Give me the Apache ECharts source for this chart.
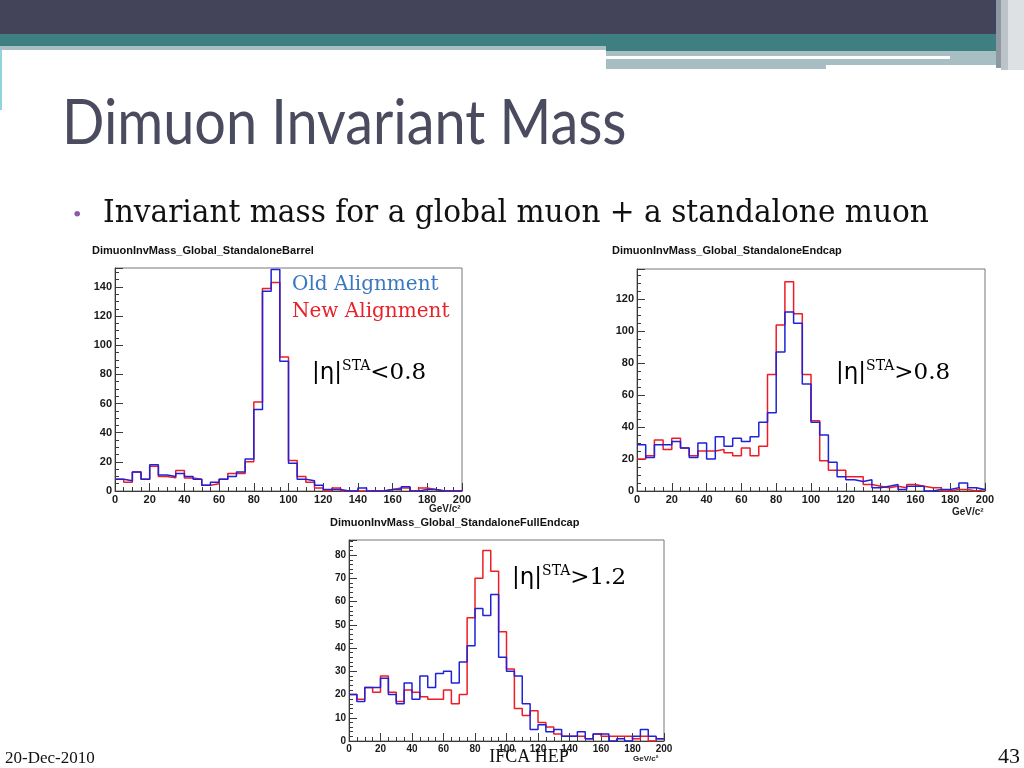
<!DOCTYPE html>
<html><head><meta charset="utf-8">
<script src="https://cdn.jsdelivr.net/npm/echarts@6/dist/echarts.min.js"></script>
<style>html,body{margin:0;padding:0;background:#fff}#c{width:1024px;height:768px}</style>
</head><body><div id="c"></div>
<script>
// Histogram binning: 40 bins of 5 GeV/c^2 from 0 to 200
const binStart = 0;
const binWidth = 5;
const xTicks = [0, 20, 40, 60, 80, 100, 120, 140, 160, 180, 200];

const chartTitles = [
  'DimuonInvMass_Global_StandaloneBarrel',
  'DimuonInvMass_Global_StandaloneEndcap',
  'DimuonInvMass_Global_StandaloneFullEndcap'
];
const legendNames = ['Old Alignment', 'New Alignment'];
const etaLabels = ['<0.8', '>0.8', '>1.2'];

// Barrel |eta|<0.8
const barrelOld = [8,7,13,8,18,11,10,12,10,8,4,6,8,10,13,22,56,137,152,89,19,8,7,4,1,1,0,0,2,0,0,1,1,3,0,1,1,0,0,0];
const barrelNew = [8,6,13,8,17,10,9,14,9,8,4,5,8,12,12,20,61,139,143,92,21,10,6,2,0,2,0,0,0,0,0,1,2,2,0,2,1,0,0,0];
// Endcap |eta|>0.8
const endcapOld = [29,21,29,29,31,27,21,30,20,34,28,33,31,34,43,49,87,112,105,67,43,35,18,9,7,6,7,2,3,4,1,3,3,0,1,1,2,5,2,1];
const endcapNew = [20,22,32,26,33,27,22,25,25,26,24,22,27,22,28,73,104,131,111,73,44,19,13,13,9,9,4,3,2,3,2,4,3,2,2,0,1,1,0,1];
// Full endcap |eta|>1.2
const fullOld = [20,17,23,23,27,20,16,25,18,28,23,29,30,25,34,41,57,54,63,36,30,28,16,5,7,4,5,2,2,4,1,3,3,0,1,0,2,5,2,1];
const fullNew = [20,18,23,21,28,21,17,22,21,19,18,18,22,16,20,53,70,82,73,47,31,14,11,13,8,6,3,2,2,2,1,3,2,2,2,2,1,2,0,1];

function stepData(values) {
  const pts = values.map((v, i) => [binStart + i * binWidth, v]);
  pts.push([binStart + values.length * binWidth, values[values.length - 1]]);
  return pts;
}

const grids = [
  {left: 115, top: 268, width: 347, height: 223, ymax: 153, yInt: 20, ySplit: 4, fs: 11},
  {left: 637, top: 269, width: 348, height: 222, ymax: 139, yInt: 20, ySplit: 4, fs: 11},
  {left: 349, top: 540, width: 315, height: 201, ymax: 86.5, yInt: 10, ySplit: 5, fs: 10}
];
const seriesSets = [[barrelNew, barrelOld], [endcapNew, endcapOld], [fullNew, fullOld]];

const axisColor = '#3a3a3a';
const labelStyle = (fs) => ({fontFamily: 'Liberation Sans', fontWeight: 'bold', fontSize: fs, color: '#1a1a1a'});

const option = {
  backgroundColor: '#ffffff',
  animation: false,
  grid: grids.map(g => ({left: g.left, top: g.top, width: g.width, height: g.height, show: true,
    borderColor: '#777', borderWidth: 1, backgroundColor: '#fff', containLabel: false})),
  xAxis: grids.map((g, i) => ({
    gridIndex: i, type: 'value', min: xTicks[0], max: xTicks[xTicks.length - 1], interval: 20,
    axisLine: {show: true, onZero: false, lineStyle: {color: axisColor, width: 1}},
    axisTick: {show: true, inside: true, length: 8, lineStyle: {color: axisColor}},
    minorTick: {show: true, splitNumber: 4, length: 4, lineStyle: {color: axisColor}},
    splitLine: {show: false},
    axisLabel: Object.assign({margin: 3}, labelStyle(g.fs))
  })),
  yAxis: grids.map((g, i) => ({
    gridIndex: i, type: 'value', min: 0, max: g.ymax, interval: g.yInt,
    axisLine: {show: true, lineStyle: {color: axisColor, width: 1}},
    axisTick: {show: true, inside: true, length: 8, lineStyle: {color: axisColor}},
    minorTick: {show: true, splitNumber: g.ySplit, length: 4, lineStyle: {color: axisColor}},
    splitLine: {show: false},
    axisLabel: Object.assign({margin: 3, showMaxLabel: false}, labelStyle(g.fs))
  })),
  series: []
};

const lineColors = {New: '#ee1c24', Old: '#1f22d8'};
seriesSets.forEach((pair, i) => {
  option.series.push({name: legendNames[1], type: 'line', step: 'end', xAxisIndex: i, yAxisIndex: i,
    data: stepData(pair[0]), showSymbol: false, lineStyle: {color: lineColors.New, width: 1.5}, z: 2});
  option.series.push({name: legendNames[0], type: 'line', step: 'end', xAxisIndex: i, yAxisIndex: i,
    data: stepData(pair[1]), showSymbol: false, lineStyle: {color: lineColors.Old, width: 1.5}, z: 3});
});

function etaText(x, y, suffix) {
  return {type: 'text', x: x, y: y, z: 20, style: {
    text: '{e||η|}{s|STA}{n|' + suffix + '}',
    rich: {
      e: {fontFamily: 'DejaVu Sans', fontSize: 23, lineHeight: 28, color: '#222'},
      s: {fontFamily: 'DejaVu Serif', fontSize: 14, lineHeight: 14, verticalAlign: 'top', color: '#222'},
      n: {fontFamily: 'DejaVu Serif', fontSize: 23, lineHeight: 28, color: '#222'}
    }, verticalAlign: 'middle'}};
}

const smallTitle = (x, y, t) => ({type: 'text', x: x, y: y, z: 20, style: {text: t,
  fontFamily: 'Liberation Sans', fontWeight: 'bold', fontSize: 11, fill: '#111', verticalAlign: 'middle'}});
const unitText = (x, y, fs) => ({type: 'text', x: x, y: y, z: 20, style: {text: 'GeV/c²',
  fontFamily: 'Liberation Sans', fontWeight: 'bold', fontSize: fs, fill: '#222', verticalAlign: 'middle'}});

option.graphic = [
  // slide header bands
  {type: 'rect', shape: {x: 0, y: 0, width: 1000, height: 34}, style: {fill: '#43435a'}, z: 1},
  {type: 'rect', shape: {x: 0, y: 34, width: 1000, height: 12}, style: {fill: '#3e7f82'}, z: 1},
  {type: 'rect', shape: {x: 0, y: 46, width: 606, height: 4}, style: {fill: '#a9bfc3'}, z: 1},
  {type: 'rect', shape: {x: 606, y: 46, width: 394, height: 5}, style: {fill: '#3e7f82'}, z: 1},
  {type: 'rect', shape: {x: 606, y: 51, width: 398, height: 14}, style: {fill: '#a7bec3'}, z: 1},
  {type: 'rect', shape: {x: 606, y: 56, width: 344, height: 3}, style: {fill: '#ffffff'}, z: 1},
  {type: 'rect', shape: {x: 606, y: 65, width: 220, height: 4}, style: {fill: '#a7bec3'}, z: 1},
  {type: 'rect', shape: {x: 996, y: 0, width: 5, height: 68}, style: {fill: '#8e98a3'}, z: 1},
  {type: 'rect', shape: {x: 1001, y: 0, width: 7, height: 70}, style: {fill: '#bcc3c9'}, z: 1},
  {type: 'rect', shape: {x: 1008, y: 0, width: 16, height: 70}, style: {fill: '#dde1e4'}, z: 1},
  {type: 'rect', shape: {x: 0, y: 50, width: 2, height: 60}, style: {fill: '#8fd3dc'}, z: 1},
  // slide title and bullet
  {type: 'text', x: 62, y: 124, scaleX: 0.9, z: 20, style: {text: 'Dimuon Invariant Mass', fontFamily: 'Lato',
    fontSize: 62, fill: '#4a4b5f', verticalAlign: 'middle'}},
  {type: 'text', x: 73, y: 216, z: 20, style: {text: '•', fontFamily: 'Liberation Serif',
    fontSize: 24, fill: '#8a5aa6', verticalAlign: 'middle'}},
  {type: 'text', x: 103, y: 214, scaleX: 0.955, z: 20, style: {text: 'Invariant mass for a global muon + a standalone muon',
    fontFamily: 'DejaVu Serif', fontSize: 31, fill: '#111', verticalAlign: 'middle'}},
  // chart titles
  smallTitle(92, 251, chartTitles[0]),
  smallTitle(612, 251, chartTitles[1]),
  smallTitle(330, 523, chartTitles[2]),
  unitText(429, 509, 10),
  unitText(952, 512, 10),
  unitText(633, 759, 8),
  // legend annotations
  {type: 'text', x: 292, y: 285, z: 20, style: {text: legendNames[0], fontFamily: 'DejaVu Serif',
    fontSize: 20, fill: '#3a78c2', verticalAlign: 'middle'}},
  {type: 'text', x: 292, y: 312, z: 20, style: {text: legendNames[1], fontFamily: 'DejaVu Serif',
    fontSize: 20, fill: '#e8222a', verticalAlign: 'middle'}},
  etaText(312, 373, etaLabels[0]),
  etaText(836, 373, etaLabels[1]),
  etaText(512, 578, etaLabels[2]),
  // footer
  {type: 'text', x: 5, y: 759, z: 20, style: {text: '20-Dec-2010', fontFamily: 'Liberation Serif',
    fontSize: 17, fill: '#111', verticalAlign: 'middle'}},
  {type: 'text', x: 529, y: 757, z: 20, style: {text: 'IFCA HEP', fontFamily: 'Liberation Serif',
    fontSize: 18, fill: '#111', align: 'center', verticalAlign: 'middle'}},
  {type: 'text', x: 1020, y: 757, z: 20, style: {text: '43', fontFamily: 'Liberation Serif',
    fontSize: 22, fill: '#111', align: 'right', verticalAlign: 'middle'}}
];

const chart = echarts.init(document.getElementById('c'), null, {renderer: 'canvas'});
chart.setOption(option);
</script>
</body></html>
